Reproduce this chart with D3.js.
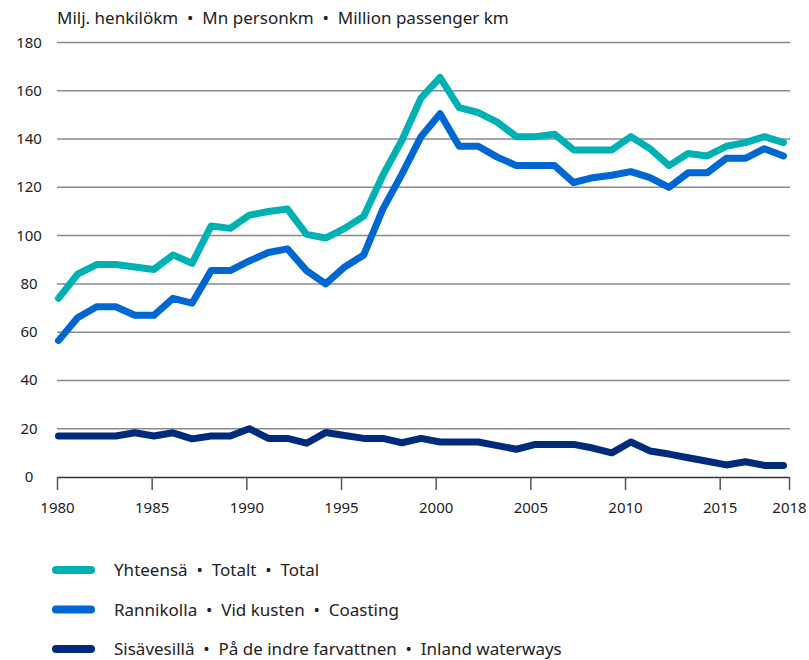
<!DOCTYPE html>
<html>
<head>
<meta charset="utf-8">
<script src="https://cdn.jsdelivr.net/npm/d3@7"></script>
<style>
  body { margin: 0; background: #fff; }
  svg { display: block; font-family: "Noto Sans", sans-serif; }
</style>
</head>
<body>
<svg id="chart" width="809" height="660"></svg>
<script>
const years = d3.range(1980, 2019);

const total = [74, 84, 88, 88, 87, 86, 92, 88.5, 104, 103,
    108.5, 110, 111, 100.5, 99, 103, 108, 125, 139.5, 157,
    165.5, 153, 151, 147, 141, 141, 142, 135.5, 135.5, 135.5,
    141, 136, 129, 134, 133, 137, 138.5, 141, 138.5];

const coastal = [56.5, 66, 70.5, 70.5, 67, 67, 74, 72, 85.5, 85.5,
    89.5, 93, 94.5, 85.5, 80, 87, 92, 111, 125.5, 141,
    150.5, 137, 137, 132.5, 129, 129, 129, 122, 124, 125,
    126.5, 124, 120, 126, 126, 132, 132, 136, 133];

const inland = [17, 17, 17, 17, 18.3, 17, 18.3, 15.8, 17, 17,
    20, 16, 16, 14, 18.4, 17.2, 16, 16, 14.2, 16,
    14.5, 14.5, 14.5, 13, 11.5, 13.5, 13.5, 13.5, 12, 10,
    14.5, 10.8, 9.5, 8, 6.5, 5, 6.3, 4.8, 4.8];

const seriesNames = ['Yhteensä • Totalt • Total',
    'Rannikolla • Vid kusten • Coasting',
    'Sisävesillä • På de indre farvattnen • Inland waterways'];
const colors = ['#00b1b3', '#0066d1', '#002a7c'];

const yTicks = [0, 20, 40, 60, 80, 100, 120, 140, 160, 180];
const xTicks = [1980, 1985, 1990, 1995, 2000, 2005, 2010, 2015, 2018];
const unitLabel = 'Milj. henkilökm  •  Mn personkm  •  Million passenger km';

const svg = d3.select('#chart');

const xScale = d3.scaleLinear()
    .domain([1980, 2018])
    .range([58.5, 783.5]);

// the axis in the original is spaced a bit differently from the data
const axisScale = d3.scaleLinear()
    .domain([1980, 2015, 2018])
    .range([57, 719.7, 789]);

const yScale = d3.scaleLinear()
    .domain([0, 180])
    .range([477, 42.5]);

// unit title
svg.append('text')
    .attr('x', 57)
    .attr('y', 24)
    .attr('font-size', 17)
    .attr('fill', '#222')
    .style('white-space', 'pre')
    .text(unitLabel);

// gridlines + y labels
svg.append('g')
    .selectAll('line')
    .data(yTicks.filter(d => d > 0))
    .join('line')
    .attr('x1', 57)
    .attr('x2', 790)
    .attr('y1', d => yScale(d))
    .attr('y2', d => yScale(d))
    .attr('stroke', '#8a8a8a')
    .attr('stroke-width', 1.5);

svg.append('g')
    .selectAll('text')
    .data(yTicks)
    .join('text')
    .attr('x', 29)
    .attr('y', d => yScale(d) + 5)
    .attr('text-anchor', 'middle')
    .attr('font-size', 15)
    .attr('fill', '#222')
    .text(d => d);

// x axis
const xAxis = d3.axisBottom(axisScale)
    .tickValues(xTicks)
    .tickFormat(d3.format('d'))
    .tickSize(13)
    .tickSizeOuter(0)
    .tickPadding(12);

const gx = svg.append('g')
    .attr('transform', 'translate(0,477)')
    .call(xAxis);
gx.select('.domain').attr('stroke', '#333').attr('stroke-width', 1.5);
gx.selectAll('.tick line').attr('stroke', '#555').attr('stroke-width', 1.5);
gx.selectAll('.tick text')
    .attr('font-size', 15)
    .attr('font-family', '"Noto Sans", sans-serif')
    .attr('fill', '#222');

// lines
const line = d3.line()
    .x((d, i) => xScale(years[i]))
    .y(d => yScale(d));

[inland, coastal, total].forEach((values, k) => {
    svg.append('path')
        .attr('d', line(values))
        .attr('fill', 'none')
        .attr('stroke', colors[2 - k])
        .attr('stroke-width', 7)
        .attr('stroke-linejoin', 'round')
        .attr('stroke-linecap', 'round');
});

// legend
const legend = svg.append('g')
    .selectAll('g')
    .data(seriesNames)
    .join('g')
    .attr('transform', (d, i) => `translate(0,${570 + i * 39.5})`);

legend.append('line')
    .attr('x1', 56)
    .attr('x2', 91)
    .attr('stroke', (d, i) => colors[i])
    .attr('stroke-width', 8)
    .attr('stroke-linecap', 'round');

legend.append('text')
    .attr('x', 114)
    .attr('y', 6)
    .attr('font-size', 17)
    .attr('fill', '#222')
    .style('white-space', 'pre')
    .text(d => d.replace(/ • /g, '  •  '));
</script>
</body>
</html>
